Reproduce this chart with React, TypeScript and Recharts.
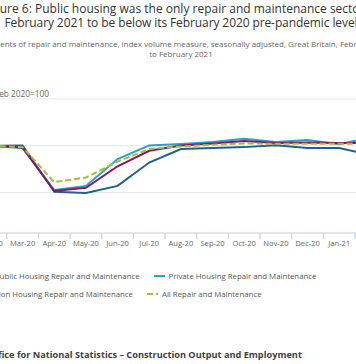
import React from "react";
import { LineChart, Line, XAxis, YAxis, CartesianGrid } from "recharts";

const months = ["Feb-20", "Mar-20", "Apr-20", "May-20", "Jun-20", "Jul-20", "Aug-20", "Sep-20", "Oct-20", "Nov-20", "Dec-20", "Jan-21", "Feb-21"];
const publicHousing = [100, 100.3, 50.8, 49.5, 57, 82, 96.5, 97.5, 98.5, 100.5, 97.5, 97.5, 90];
const privateHousing = [100, 97.5, 52.5, 57, 85.7, 100.3, 101.8, 104, 107.5, 104, 106, 101.5, 109];
const nonHousing = [100, 98, 51.5, 55, 78, 94.6, 100.3, 102.5, 105, 103, 103.5, 103, 103];
const allRepair = [100, 98.5, 61, 66, 83, 96.4, 99.3, 101, 102.5, 102, 102, 102, 102];
const yTicks = [50, 100, 150];

const seriesNames = [
  "Public Housing Repair and Maintenance",
  "Private Housing Repair and Maintenance",
  "Non Housing Repair and Maintenance",
  "All Repair and Maintenance",
];
const colors = ["#206095", "#27a0cc", "#871a5b", "#a8bd3a"];

const data = months.map((m, i) => ({
  month: m,
  pub: publicHousing[i],
  priv: privateHousing[i],
  non: nonHousing[i],
  all: allRepair[i],
}));

const FONT = "'Open Sans', sans-serif";
const TICK_SIZE = 6;
const TICK_MARGIN = 1.5;

const CustomTick = (props: any) => {
  const { x, y, payload } = props;
  const axisY = y - TICK_SIZE - TICK_MARGIN;
  const half = payload.offset || 0;
  return (
    <g>
      <line x1={x - half} x2={x - half} y1={axisY} y2={axisY + TICK_SIZE} stroke="#ccd6eb" strokeWidth={1} />
      <line x1={x + half} x2={x + half} y1={axisY} y2={axisY + TICK_SIZE} stroke="#ccd6eb" strokeWidth={1} />
      <text x={x} y={y} dy="0.71em" textAnchor="middle" fill="#666666" fontSize={7.6} fontFamily={FONT}>
        {payload.value}
      </text>
    </g>
  );
};

const LegendItem = ({ name, color, dashed }: { name: string; color: string; dashed?: boolean }) => (
  <div style={{ display: "flex", alignItems: "center", marginRight: 14, whiteSpace: "nowrap" }}>
    <svg width={11} height={6} style={{ marginRight: 4 }}>
      <line x1={0} x2={11} y1={3} y2={3} stroke={color} strokeWidth={2} strokeDasharray={dashed ? "6 3" : undefined} />
    </svg>
    <span>{name}</span>
  </div>
);

export default function App() {
  return (
    <div style={{ position: "absolute", left: 0, top: 0, width: 356, height: 364, overflow: "hidden", background: "#fff", fontFamily: FONT }}>
      <div style={{ position: "absolute", left: -119, top: 1.5, width: 600, textAlign: "center", color: "#333333", fontSize: 12, lineHeight: "14.8px", whiteSpace: "nowrap" }}>
        <div>Figure 6: Public housing was the only repair and maintenance sector in</div>
        <div style={{ letterSpacing: "-0.1px" }}>February 2021 to be below its February 2020 pre-pandemic level</div>
      </div>
      <div style={{ position: "absolute", left: -119, top: 39, width: 600, textAlign: "center", color: "#666666", fontSize: 8, lineHeight: "9.5px", whiteSpace: "nowrap" }}>
        Components of repair and maintenance, index volume measure, seasonally adjusted, Great Britain, February 2020
        <br />
        to February 2021
      </div>
      <div style={{ position: "absolute", left: -151, top: 88, width: 200, textAlign: "right", color: "#666666", fontSize: 8.3, lineHeight: "12px", whiteSpace: "nowrap" }}>
        Index, Feb 2020=100
      </div>
      <div style={{ position: "absolute", left: -100, top: 0 }}>
        <LineChart width={520} height={265} data={data} margin={{ top: 99, right: 33.3, left: 35.1, bottom: 2 }}>
          <CartesianGrid horizontal={true} vertical={false} stroke="#e6e6e6" />
          <XAxis
            dataKey="month"
            scale="band"
            interval={0}
            height={30}
            tickSize={TICK_SIZE}
            tickMargin={TICK_MARGIN}
            tickLine={false}
            axisLine={{ stroke: "#ccd6eb" }}
            tick={<CustomTick />}
          />
          <YAxis
            width={40}
            domain={[6.6, 150]}
            ticks={yTicks}
            allowDataOverflow={true}
            axisLine={false}
            tickLine={false}
            tick={{ fontSize: 7.6, fill: "#666666", fontFamily: FONT }}
          />
          <Line dataKey="pub" name={seriesNames[0]} stroke={colors[0]} strokeWidth={2} dot={false} isAnimationActive={false} />
          <Line dataKey="priv" name={seriesNames[1]} stroke={colors[1]} strokeWidth={2} dot={false} isAnimationActive={false} />
          <Line dataKey="non" name={seriesNames[2]} stroke={colors[2]} strokeWidth={2} dot={false} isAnimationActive={false} />
          <Line dataKey="all" name={seriesNames[3]} stroke={colors[3]} strokeWidth={2} strokeDasharray="6 3" dot={false} isAnimationActive={false} />
        </LineChart>
      </div>
      <div style={{ position: "absolute", left: -20, top: 270, color: "#555555", fontSize: 7.8, lineHeight: "12px" }}>
        <div style={{ display: "flex", marginBottom: 5.5 }}>
          <LegendItem name={seriesNames[0]} color={colors[0]} />
          <LegendItem name={seriesNames[1]} color={colors[1]} />
        </div>
        <div style={{ display: "flex" }}>
          <LegendItem name={seriesNames[2]} color={colors[2]} />
          <LegendItem name={seriesNames[3]} color={colors[3]} dashed />
        </div>
      </div>
      <div style={{ position: "absolute", left: -49, top: 349, color: "#414042", fontSize: 9.2, fontWeight: "bold", lineHeight: "12px", whiteSpace: "nowrap" }}>
        Source: Office for National Statistics – Construction Output and Employment
      </div>
    </div>
  );
}
